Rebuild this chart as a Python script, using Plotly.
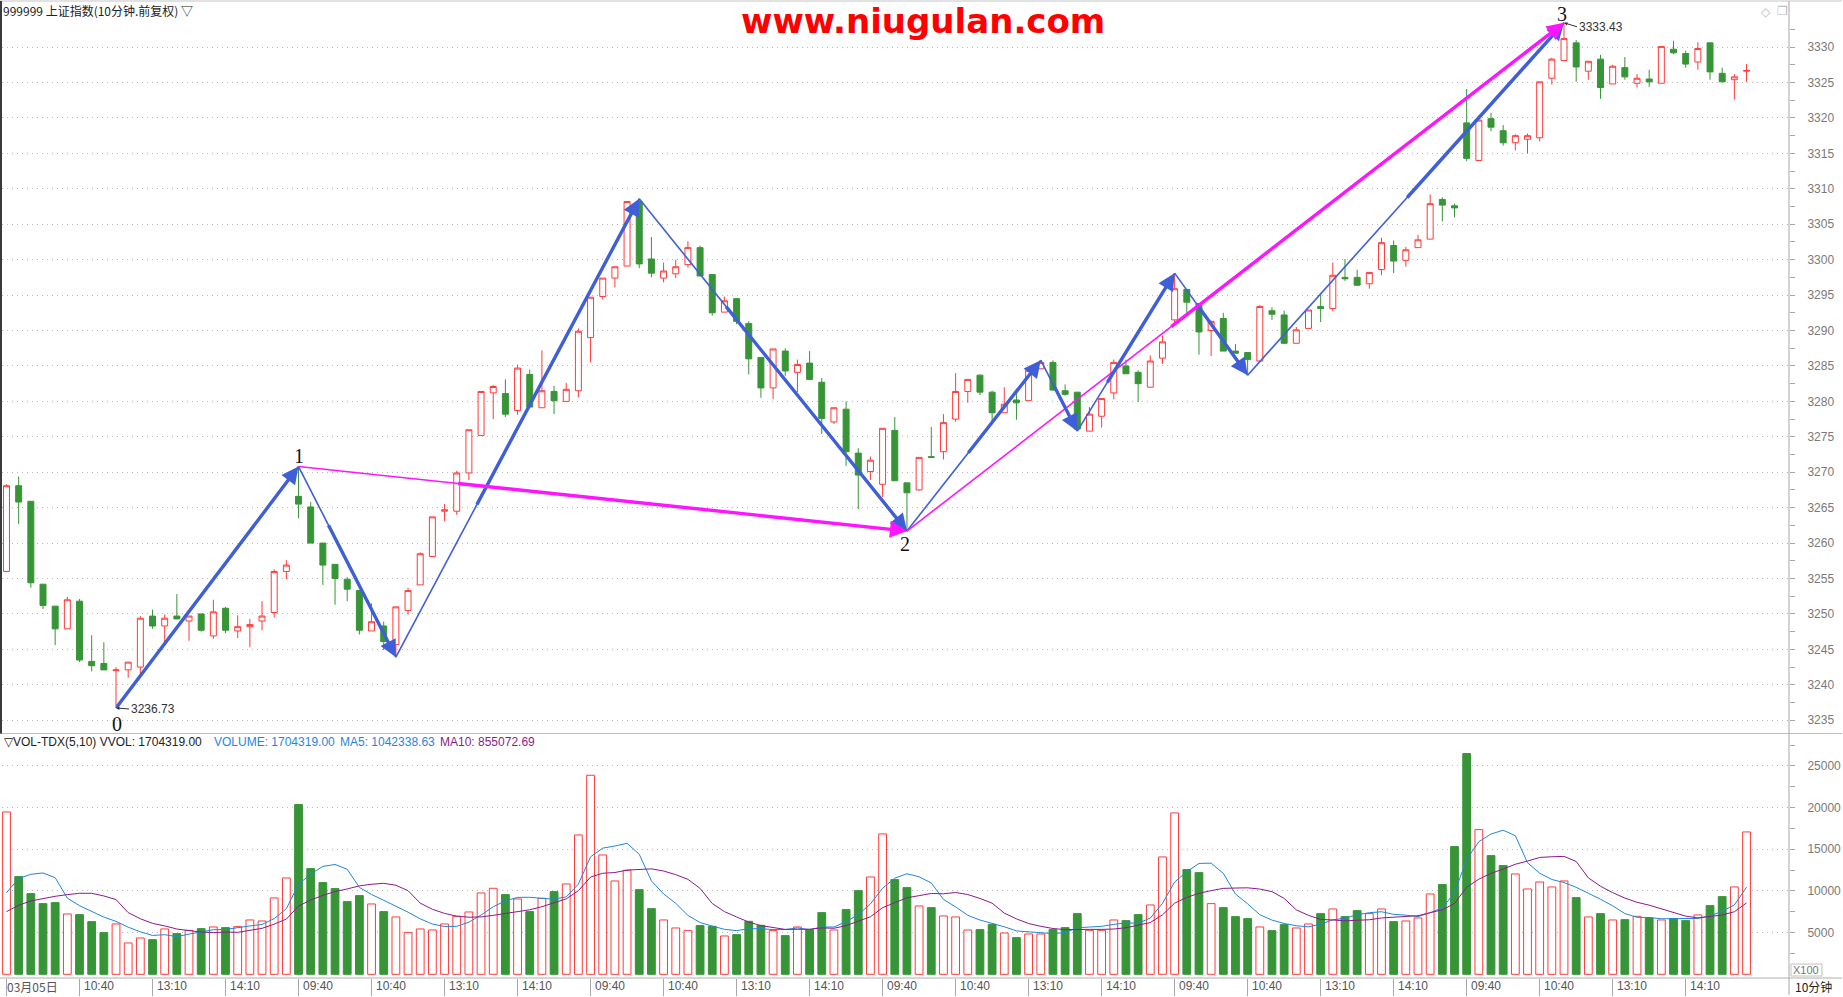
import plotly.graph_objects as go

# ---------------- data ----------------
opens = [
    3256.0, 3268.1, 3265.9, 3254.2, 3251.1, 3247.9, 3251.8, 3243.3, 3243.0, 3242.0, 3242.1, 3242.5,
    3249.7, 3248.3, 3249.7, 3249.0, 3250.0, 3246.9, 3250.8, 3247.6, 3248.2, 3249.0, 3250.2, 3256.0,
    3266.6, 3265.1, 3260.0, 3257.0, 3254.9, 3253.3, 3247.6, 3248.3, 3245.7, 3250.5, 3254.1, 3258.1,
    3264.5, 3264.5, 3269.9, 3275.2, 3281.2, 3281.1, 3278.7, 3283.8, 3279.1, 3281.4, 3280.0, 3281.5,
    3289.0, 3294.8, 3297.4, 3299.1, 3308.2, 3300.1, 3297.4, 3298.0, 3299.3, 3301.7, 3297.9, 3292.6,
    3294.5, 3291.0, 3286.2, 3281.9, 3287.1, 3284.1, 3285.4, 3282.7, 3277.1, 3278.9, 3272.7, 3270.1,
    3268.3, 3275.9, 3268.5, 3267.5, 3272.2, 3272.9, 3277.5, 3281.4, 3283.7, 3281.3, 3278.4, 3280.2,
    3280.1, 3284.6, 3285.5, 3281.5, 3281.3, 3275.8, 3277.9, 3281.2, 3285.0, 3284.1, 3282.0, 3286.1,
    3291.5, 3295.8, 3293.8, 3290.0, 3291.7, 3287.1, 3286.9, 3285.7, 3292.8, 3292.2, 3288.2, 3290.3,
    3293.4, 3293.1, 3297.5, 3297.5, 3296.6, 3298.6, 3302.0, 3299.9, 3301.7, 3302.9, 3308.5, 3307.6,
    3319.3, 3314.0, 3319.9, 3318.2, 3316.5, 3317.0, 3317.2, 3325.6, 3328.1, 3330.6, 3326.6, 3328.3,
    3324.8, 3327.1, 3324.9, 3325.5, 3324.9, 3329.7, 3329.1, 3327.9, 3330.6, 3326.3, 3325.4, 3326.6,
]
highs = [
    3268.3, 3269.4, 3265.9, 3254.2, 3251.1, 3252.4, 3252.1, 3247.0, 3246.0, 3242.5, 3243.2, 3249.7,
    3250.6, 3249.9, 3252.8, 3249.7, 3250.0, 3252.0, 3251.0, 3249.8, 3249.3, 3251.8, 3256.3, 3257.6,
    3270.8, 3265.8, 3260.0, 3257.0, 3255.2, 3253.3, 3251.5, 3248.9, 3251.0, 3253.7, 3258.7, 3263.7,
    3265.5, 3270.2, 3276.0, 3281.4, 3282.3, 3283.1, 3285.2, 3284.5, 3287.2, 3282.2, 3282.6, 3290.3,
    3294.7, 3297.4, 3299.0, 3308.2, 3308.6, 3303.2, 3299.6, 3300.0, 3302.6, 3302.0, 3297.9, 3294.8,
    3294.5, 3291.3, 3286.2, 3287.4, 3287.5, 3285.9, 3287.1, 3283.3, 3279.1, 3280.0, 3273.4, 3272.2,
    3276.2, 3277.8, 3268.5, 3272.1, 3276.4, 3278.2, 3284.0, 3283.1, 3283.8, 3281.5, 3282.0, 3281.3,
    3284.5, 3285.8, 3285.8, 3282.4, 3281.3, 3279.2, 3280.4, 3285.9, 3285.9, 3284.4, 3286.5, 3289.3,
    3298.1, 3295.8, 3293.8, 3291.4, 3292.5, 3288.1, 3286.9, 3293.6, 3293.3, 3292.8, 3290.5, 3292.9,
    3295.2, 3299.6, 3300.1, 3298.6, 3298.2, 3303.1, 3302.7, 3301.8, 3303.5, 3309.2, 3308.8, 3307.9,
    3324.1, 3319.7, 3320.7, 3319.0, 3317.7, 3317.8, 3325.1, 3328.5, 3333.43, 3331.0, 3328.0, 3328.9,
    3327.5, 3328.6, 3326.2, 3326.8, 3330.1, 3330.9, 3329.5, 3330.7, 3330.6, 3327.1, 3326.2, 3327.6,
]
lows = [
    3255.9, 3262.7, 3253.7, 3250.7, 3245.6, 3247.9, 3243.2, 3241.9, 3242.1, 3236.73, 3241.0, 3241.4,
    3247.9, 3245.7, 3249.3, 3246.2, 3247.5, 3246.5, 3247.3, 3246.6, 3245.3, 3247.7, 3249.5, 3254.9,
    3263.5, 3260.0, 3254.1, 3251.3, 3251.8, 3247.1, 3247.6, 3244.9, 3243.9, 3249.9, 3254.1, 3258.1,
    3263.1, 3264.0, 3268.9, 3275.2, 3277.5, 3277.8, 3278.1, 3279.2, 3279.1, 3278.2, 3280.0, 3280.6,
    3285.5, 3294.4, 3296.1, 3299.1, 3298.8, 3297.5, 3296.8, 3297.4, 3298.9, 3297.7, 3292.1, 3292.6,
    3290.9, 3283.8, 3280.5, 3280.3, 3283.6, 3281.3, 3283.0, 3275.4, 3276.8, 3270.9, 3264.8, 3268.9,
    3266.5, 3268.8, 3261.7, 3267.4, 3272.1, 3271.8, 3277.1, 3279.8, 3280.9, 3277.0, 3278.4, 3277.4,
    3280.1, 3284.6, 3281.5, 3280.8, 3275.8, 3275.8, 3276.3, 3280.3, 3283.9, 3279.9, 3282.0, 3285.3,
    3291.0, 3292.4, 3286.6, 3286.4, 3287.1, 3286.8, 3283.7, 3285.7, 3291.5, 3288.1, 3288.2, 3290.3,
    3291.2, 3292.7, 3297.0, 3296.3, 3295.9, 3297.8, 3298.1, 3299.0, 3301.7, 3302.9, 3305.4, 3306.0,
    3313.9, 3314.0, 3318.1, 3316.1, 3315.4, 3315.0, 3316.7, 3324.7, 3328.1, 3325.1, 3325.4, 3322.7,
    3324.8, 3325.4, 3324.3, 3324.4, 3324.9, 3329.0, 3327.1, 3326.8, 3325.4, 3325.1, 3322.6, 3325.1,
]
closes = [
    3268.1, 3265.8, 3254.4, 3251.2, 3247.9, 3252.0, 3243.5, 3242.7, 3242.1, 3242.1, 3243.2, 3249.4,
    3248.3, 3249.4, 3249.3, 3249.7, 3247.7, 3250.3, 3247.7, 3248.2, 3248.5, 3249.7, 3256.0, 3256.9,
    3265.5, 3260.0, 3256.9, 3255.0, 3253.5, 3247.7, 3248.9, 3246.1, 3251.0, 3253.3, 3258.5, 3263.7,
    3264.7, 3269.9, 3276.0, 3281.4, 3282.1, 3278.2, 3284.7, 3279.2, 3281.5, 3280.1, 3281.7, 3289.9,
    3294.7, 3297.4, 3299.0, 3308.2, 3299.4, 3298.1, 3298.4, 3299.0, 3301.7, 3297.7, 3292.5, 3294.2,
    3291.3, 3286.0, 3281.9, 3287.4, 3284.3, 3285.2, 3283.1, 3277.6, 3279.1, 3272.9, 3269.6, 3271.7,
    3276.2, 3268.8, 3267.1, 3272.1, 3272.1, 3277.0, 3281.4, 3283.1, 3281.3, 3278.4, 3279.6, 3279.8,
    3284.4, 3285.5, 3281.6, 3281.0, 3276.1, 3278.2, 3280.4, 3285.5, 3283.9, 3282.5, 3285.7, 3288.4,
    3295.9, 3294.0, 3289.8, 3291.3, 3287.1, 3286.8, 3285.9, 3293.4, 3292.3, 3288.2, 3290.1, 3292.9,
    3293.1, 3297.8, 3297.3, 3296.4, 3298.2, 3302.4, 3299.8, 3301.4, 3302.8, 3307.9, 3307.7, 3307.3,
    3314.3, 3319.7, 3318.7, 3316.5, 3317.5, 3317.5, 3325.1, 3328.3, 3331.2, 3327.2, 3328.0, 3324.3,
    3327.3, 3325.8, 3325.6, 3325.1, 3330.1, 3329.2, 3327.6, 3329.8, 3326.5, 3325.1, 3325.8, 3326.7,
]
# volume in units of 100 (axis "X100")
volumes = [
    19480, 11720, 9680, 8480, 8600, 7240, 7160, 6320, 5000, 6040, 3760, 4360,
    4160, 5440, 4880, 5280, 5480, 5680, 5600, 5720, 6520, 6400, 9160, 11560,
    20360, 12680, 11000, 10280, 8720, 9440, 8440, 7520, 6880, 5000, 5440, 5320,
    6040, 6960, 7480, 9760, 10320, 9560, 9040, 7520, 9120, 9920, 10840, 16720,
    23880, 14320, 11200, 12480, 10160, 7880, 6520, 5560, 5240, 5840, 5760, 4600,
    4760, 6360, 5880, 5240, 4640, 5680, 5360, 7400, 5320, 7760, 10040, 11680,
    16840, 11360, 10400, 8200, 8000, 7000, 6880, 5320, 5360, 6000, 4960, 4400,
    4840, 4840, 5360, 5600, 7280, 5280, 5280, 6520, 6440, 7160, 8320, 14080,
    19360, 12560, 12200, 8480, 8000, 6920, 6680, 5680, 5240, 5960, 5560, 6040,
    7280, 7840, 6920, 7640, 7280, 7840, 6320, 6400, 6760, 9640, 10760, 15320,
    26480, 17360, 14240, 13040, 12040, 10240, 11080, 10480, 11200, 9200, 6880, 7280,
    6520, 6560, 6960, 6760, 6520, 6680, 6440, 7120, 8240, 9320, 10480, 17080,
]
# MA values at the first bars (they depend on earlier, off-screen bars)
ma5_head = [9800, 11480, 12000, 12160]
ma10_head = [7520, 8280, 8800, 9120, 9360, 9560, 9720, 9720, 9400]

time_labels = ["03月05日", "10:40", "13:10", "14:10"] + ["09:40", "10:40", "13:10", "14:10"] * 5
time_label_idx = list(range(0, 144, 6))

price_ticks = list(range(3235, 3331, 5))
vol_ticks = [5000, 10000, 15000, 20000, 25000]

# wave pivots: bar index and whether it is a low or a high
pivot_idx = [9, 24, 32, 52, 74, 85, 88, 96, 102, 128]
pivot_kind = ["L", "H", "L", "H", "L", "H", "L", "H", "L", "H"]
wave_labels = {0: "0", 1: "1", 4: "2", 9: "3"}

title_text = "999999 上证指数(10分钟.前复权) ▽"
vol_head = "▽VOL-TDX(5,10) VVOL: 1704319.00"
vol_head_v = "VOLUME: 1704319.00"
vol_head_ma5 = "MA5: 1042338.63"
vol_head_ma10 = "MA10: 855072.69"
site_text = "www.niugulan.com"

assert len(opens) == len(highs) == len(lows) == len(closes) == len(volumes) == 144

# ---------------- geometry / styles ----------------
W, H = 1843, 997
ML, MR, MT, MB = 2, 53, 3, 17
PW = W - ML - MR
PH = H - MT - MB


def px(x):
    return (x - ML) / PW


def py(y):
    return (H - MB - y) / PH


RED = "#FF3B3B"
GREEN = "#379537"
AXIS = "#A8A8A8"
GRID = "#B8B8B8"
LABEL = "#7A7A7A"
BLUE = "#3F5FD8"
MAG = "#FF14FF"
MA5C = "#1F86E0"
MA10C = "#8B1A8B"
FONT = "Liberation Sans, Arial, sans-serif"
CJK = "Noto Sans CJK SC, sans-serif"

X_LO, X_HI = -0.37, 146.49
P_LO, P_HI = 3233.127, 3336.225
V_LO, V_HI = -443, 28892
SPLIT = py(735)

n = len(closes)
idx = list(range(n))
up = [c >= o for o, c in zip(opens, closes)]


def rolling(vals, w, head):
    out = []
    for i in range(len(vals)):
        if i < w - 1:
            out.append(head[i])
        else:
            out.append(sum(vals[i - w + 1:i + 1]) / w)
    return out


ma5 = rolling(volumes, 5, ma5_head)
ma10 = rolling(volumes, 10, ma10_head)

fig = go.Figure()
fig.add_trace(go.Candlestick(
    x=idx, open=opens, high=highs, low=lows, close=closes,
    increasing=dict(line=dict(color=RED, width=1), fillcolor="white"),
    decreasing=dict(line=dict(color=GREEN, width=1), fillcolor=GREEN),
    whiskerwidth=0, xaxis="x", yaxis="y", hoverinfo="skip", showlegend=False,
))
fig.add_trace(go.Bar(
    x=idx, y=volumes, width=0.64,
    marker=dict(color=["white" if u else GREEN for u in up],
                line=dict(color=[RED if u else GREEN for u in up], width=1)),
    xaxis="x2", yaxis="y2", hoverinfo="skip", showlegend=False,
))
fig.add_trace(go.Scatter(x=idx, y=ma5, mode="lines", line=dict(color=MA5C, width=1),
                         xaxis="x2", yaxis="y2", hoverinfo="skip", showlegend=False))
fig.add_trace(go.Scatter(x=idx, y=ma10, mode="lines", line=dict(color=MA10C, width=1),
                         xaxis="x2", yaxis="y2", hoverinfo="skip", showlegend=False))

shapes = []
annotations = []


def pv(i):
    k = pivot_idx[i]
    return k, (lows[k] if pivot_kind[i] == "L" else highs[k])


def leg(i, j, frac, color, thin_w=1.6, thick_w=3.4):
    (x0, y0), (x1, y1) = pv(i), pv(j)
    shapes.append(dict(type="line", xref="x", yref="y", x0=x0, y0=y0, x1=x1, y1=y1,
                       line=dict(color=color, width=thin_w)))
    annotations.append(dict(xref="x", yref="y", axref="x", ayref="y", x=x1, y=y1,
                            ax=x0 + frac * (x1 - x0), ay=y0 + frac * (y1 - y0), text="",
                            showarrow=True, arrowhead=2, arrowsize=1.0, arrowwidth=thick_w,
                            arrowcolor=color, standoff=0, startstandoff=0))


blue_thick_from = [0.0, 0.3, 0.33, 0.32, 0.45, 0.35, 0.3, 0.3, 0.5]
for i, f in enumerate(blue_thick_from):
    leg(i, i + 1, f, BLUE)
leg(1, 4, 0.26, MAG)
leg(4, 9, 0.40, MAG)

label_shift = {0: (1, -16), 1: (0, 11), 4: (-2, -13), 9: (-2, 9)}
for i, t in wave_labels.items():
    x0, y0 = pv(i)
    dx, dy = label_shift[i]
    annotations.append(dict(xref="x", yref="y", x=x0, y=y0, text=t, showarrow=False,
                            xshift=dx, yshift=dy,
                            font=dict(family="Liberation Serif, Times New Roman, serif", size=20, color="#111")))

# extreme price notes
for i, (axp, ayp) in ((0, (13, 1)), (9, (13, 4))):
    x0, y0 = pv(i)
    annotations.append(dict(xref="x", yref="y", x=x0, y=y0, ax=axp, ay=ayp, text=f"{y0:.2f}",
                            xanchor="left", showarrow=True, arrowhead=2, arrowsize=0.7,
                            arrowwidth=1, arrowcolor="#333", standoff=0,
                            font=dict(family=FONT, size=12, color="#333")))

# time labels (left aligned at their bar)
for k, t in zip(time_label_idx, time_labels):
    annotations.append(dict(xref="x2", yref="paper", x=k, y=py(988.5), text=t, showarrow=False,
                            xanchor="left", yanchor="middle", xshift=(-2 if k == 0 else 2),
                            font=dict(family=CJK if k == 0 else FONT, size=12, color="#555")))

# header texts
annotations += [
    dict(xref="paper", yref="paper", x=px(1), y=py(11), text=title_text, showarrow=False,
         xanchor="left", yanchor="middle", font=dict(family=CJK, size=12, color="#222")),
    dict(xref="paper", yref="paper", x=px(924), y=py(21), text=f"<b>{site_text}</b>", showarrow=False,
         xanchor="center", yanchor="middle",
         font=dict(family="DejaVu Sans, sans-serif", size=34, color="#FF0000")),
    dict(xref="paper", yref="paper", x=px(2), y=py(744), text=vol_head, showarrow=False,
         xanchor="left", yanchor="middle", font=dict(family=FONT, size=12, color="#222")),
    dict(xref="paper", yref="paper", x=px(212), y=py(744), text=vol_head_v, showarrow=False,
         xanchor="left", yanchor="middle", font=dict(family=FONT, size=12, color=MA5C)),
    dict(xref="paper", yref="paper", x=px(338), y=py(744), text=vol_head_ma5, showarrow=False,
         xanchor="left", yanchor="middle", font=dict(family=FONT, size=12, color=MA5C)),
    dict(xref="paper", yref="paper", x=px(438), y=py(744), text=vol_head_ma10, showarrow=False,
         xanchor="left", yanchor="middle", font=dict(family=FONT, size=12, color=MA10C)),
    dict(xref="paper", yref="paper", x=px(1807), y=py(972), text="X100", showarrow=False,
         xanchor="center", yanchor="middle", font=dict(family=FONT, size=11, color="#777")),
    dict(xref="paper", yref="paper", x=px(1815), y=py(989), text="10分钟", showarrow=False,
         xanchor="center", yanchor="middle", font=dict(family=CJK, size=12, color="#222")),
    dict(xref="paper", yref="paper", x=px(1767), y=py(12), text="◇", showarrow=False,
         xanchor="center", yanchor="middle", font=dict(family="DejaVu Sans", size=12, color="#BBB")),
    dict(xref="paper", yref="paper", x=px(1783), y=py(11), text="❐", showarrow=False,
         xanchor="center", yanchor="middle", font=dict(family="DejaVu Sans", size=12, color="#BBB")),
]

# frame lines
frame = [
    (0, 1, W, 1, "#C4C4C4", 1),        # top border
    (0, 735, W, 735, "#BDBDBD", 1),    # panel separator
    (0, 980, W, 980, "#AFAFAF", 1),    # bottom axis
    (1790, 1, 1790, H, "#A8A8A8", 1),  # right axis line
    (1, 1, 1, 735, "#3A3A3A", 2),      # left border
]
for x0, y0, x1, y1, c, w in frame:
    shapes.append(dict(type="line", xref="paper", yref="paper", x0=px(x0), y0=py(y0),
                       x1=px(x1), y1=py(y1), line=dict(color=c, width=w)))
shapes.append(dict(type="rect", xref="paper", yref="paper", x0=px(1792), x1=px(1823),
                   y0=py(978), y1=py(966), line=dict(color="#C0C0C0", width=1)))

fig.update_layout(
    width=W, height=H,
    margin=dict(l=ML, r=MR, t=MT, b=MB, pad=0),
    paper_bgcolor="white", plot_bgcolor="white",
    showlegend=False, hovermode=False,
    xaxis=dict(domain=[0, 1], range=[X_LO, X_HI], anchor="y", showticklabels=False,
               showgrid=False, zeroline=False, showline=False, ticks="",
               rangeslider=dict(visible=False), fixedrange=True),
    xaxis2=dict(domain=[0, 1], range=[X_LO, X_HI], anchor="y2", matches="x",
                showgrid=False, zeroline=False, showline=False,
                tickmode="array", tickvals=time_label_idx, ticks="outside", ticklen=17,
                tickcolor=AXIS, tickwidth=1, showticklabels=False),
    yaxis=dict(domain=[SPLIT, 1], range=[P_LO, P_HI], anchor="x", side="right",
               tickmode="array", tickvals=price_ticks, ticktext=[str(v) for v in price_ticks],
               ticks="outside", ticklen=5, tickcolor=AXIS, ticklabelstandoff=10,
               tickfont=dict(family=FONT, size=12, color=LABEL),
               showgrid=True, gridcolor=GRID, griddash="1px,4px", gridwidth=1,
               zeroline=False, showline=False,
               minor=dict(ticks="outside", tickmode="linear", tick0=3232.5, dtick=5, ticklen=5,
                          tickcolor=AXIS, showgrid=False)),
    yaxis2=dict(domain=[0, SPLIT], range=[V_LO, V_HI], anchor="x2", side="right",
                tickmode="array", tickvals=vol_ticks, ticktext=[str(v) for v in vol_ticks],
                ticks="outside", ticklen=5, tickcolor=AXIS, ticklabelstandoff=10,
                tickfont=dict(family=FONT, size=12, color=LABEL),
                showgrid=True, gridcolor=GRID, griddash="1px,4px", gridwidth=1,
                zeroline=False, showline=False,
                minor=dict(ticks="outside", tickmode="linear", tick0=2500, dtick=5000, ticklen=5,
                           tickcolor=AXIS, showgrid=False)),
    shapes=shapes,
    annotations=annotations,
)

fig.write_html("out.html", config={"displayModeBar": False, "staticPlot": True},
               post_script="document.body.style.margin='0';document.body.style.overflow='hidden';")
